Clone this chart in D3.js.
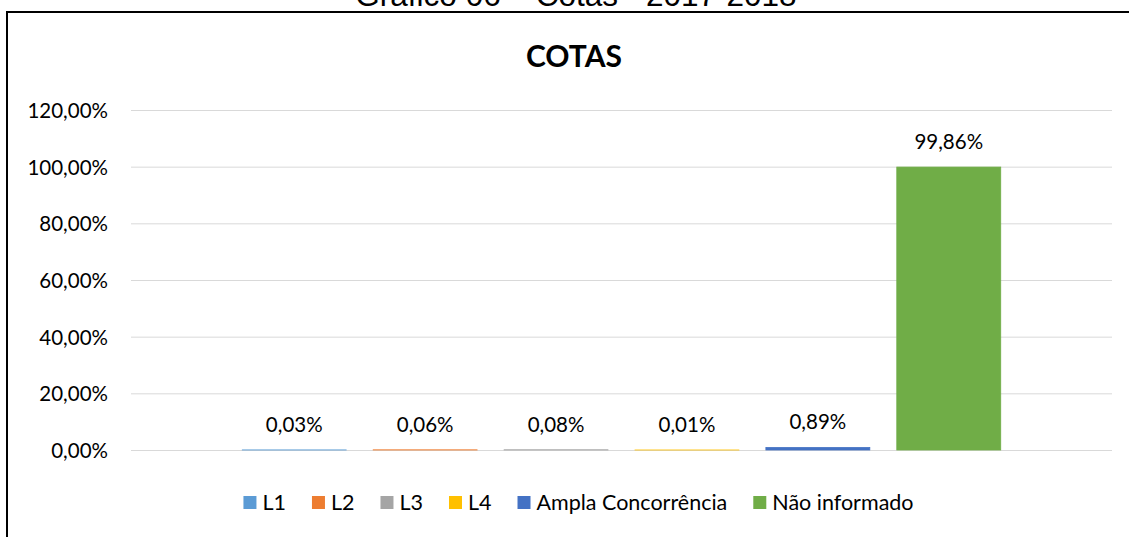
<!DOCTYPE html>
<html lang="pt">
<head>
<meta charset="UTF-8">
<title>Gráfico 06 – Cotas</title>
<script src="https://cdn.jsdelivr.net/npm/d3@7/dist/d3.min.js"></script>
<style>
    body { margin: 0; background: #fff; }
    svg { display: block; font-family: Lato, "Noto Sans", sans-serif; }
</style>
</head>
<body>
<div id="chart"></div>
<script>
    // dados
    const series = ["L1", "L2", "L3", "L4", "Ampla Concorrência", "Não informado"];
    const values = [0.03, 0.06, 0.08, 0.01, 0.89, 99.86];
    const colors = ["#5B9BD5", "#ED7D31", "#A5A5A5", "#FFC000", "#4472C4", "#70AD47"];
    const yTicks = [0, 20, 40, 60, 80, 100, 120];

    const w = 1129;
    const h = 537;
    const pLeft = 131, pRight = 1112, pTop = 110, pBottom = 450;

    const br = d3.formatLocale({decimal: ",", thousands: ".", grouping: [3], currency: ["R$", ""]});
    const pct = (v) => br.format(".2f")(v) + "%";

    const svg = d3.select("#chart").append("svg")
        .attr("width", w)
        .attr("height", h);

    // titulo do documento (cortado no topo, como na imagem)
    svg.append("text")
        .attr("x", 576)
        .attr("y", 6)
        .attr("text-anchor", "middle")
        .style("font-family", "'Liberation Sans', Arial, sans-serif")
        .style("font-size", "31.5px")
        .text("Gráfico 06 – Cotas - 2017-2018");

    // moldura
    svg.append("rect")
        .attr("x", 7)
        .attr("y", 12)
        .attr("width", 1140)
        .attr("height", 600)
        .attr("fill", "none")
        .attr("stroke", "#000")
        .attr("stroke-width", 2);

    svg.append("text")
        .attr("x", 574)
        .attr("y", 67)
        .attr("text-anchor", "middle")
        .style("font-size", "30px")
        .style("font-weight", "bold")
        .text("COTAS");

    const x = d3.scaleBand()
        .domain(series)
        .range([pLeft, pRight])
        .paddingInner(0.206)
        .paddingOuter(0.85);

    const y = d3.scaleLinear()
        .domain([0, 120])
        .range([pBottom, pTop]);

    const yAxis = d3.axisLeft(y)
        .tickValues(yTicks)
        .tickFormat(pct)
        .tickSizeInner(-(pRight - pLeft))
        .tickSizeOuter(0)
        .tickPadding(23);

    const gy = svg.append("g")
        .attr("transform", "translate(" + pLeft + ",0)")
        .call(yAxis);
    gy.select(".domain").remove();
    gy.selectAll(".tick line").attr("stroke", "#D9D9D9").attr("stroke-width", 1);
    gy.selectAll(".tick text")
        .style("font-family", "Lato, 'Noto Sans', sans-serif")
        .style("font-size", "20.5px")
        .attr("fill", "#000")
        .attr("dy", "0.36em");

    const data = series.map((s, i) => ({name: s, value: values[i], color: colors[i]}));

    svg.selectAll("rect.bar")
        .data(data)
        .enter()
        .append("rect")
        .attr("class", "bar")
        .attr("x", (d) => x(d.name))
        .attr("width", x.bandwidth())
        .attr("y", (d) => y(d.value))
        .attr("height", (d) => pBottom - y(d.value))
        .attr("fill", (d) => d.color)
        .attr("stroke", (d) => d.color)
        .attr("stroke-width", 0.8);

    svg.selectAll("text.label")
        .data(data)
        .enter()
        .append("text")
        .attr("class", "label")
        .attr("x", (d) => x(d.name) + x.bandwidth() / 2)
        .attr("y", (d) => y(d.value) - 18)
        .attr("text-anchor", "middle")
        .style("font-size", "20.5px")
        .text((d) => pct(d.value));

    // legenda
    const legend = svg.append("g");
    const items = legend.selectAll("g")
        .data(data)
        .enter()
        .append("g");
    items.append("rect")
        .attr("width", 13)
        .attr("height", 13)
        .attr("y", 496)
        .attr("fill", (d) => d.color);
    items.append("text")
        .attr("x", 19)
        .attr("y", 509.5)
        .style("font-size", "21.5px")
        .text((d) => d.name);

    let pos = 0;
    items.each(function () {
        const g = d3.select(this);
        g.attr("transform", "translate(" + pos + ",0)");
        pos += 19 + g.select("text").node().getComputedTextLength() + 26;
    });
    const total = pos - 26;
    legend.attr("transform", "translate(" + (578.5 - total / 2) + ",0)");
</script>
</body>
</html>
